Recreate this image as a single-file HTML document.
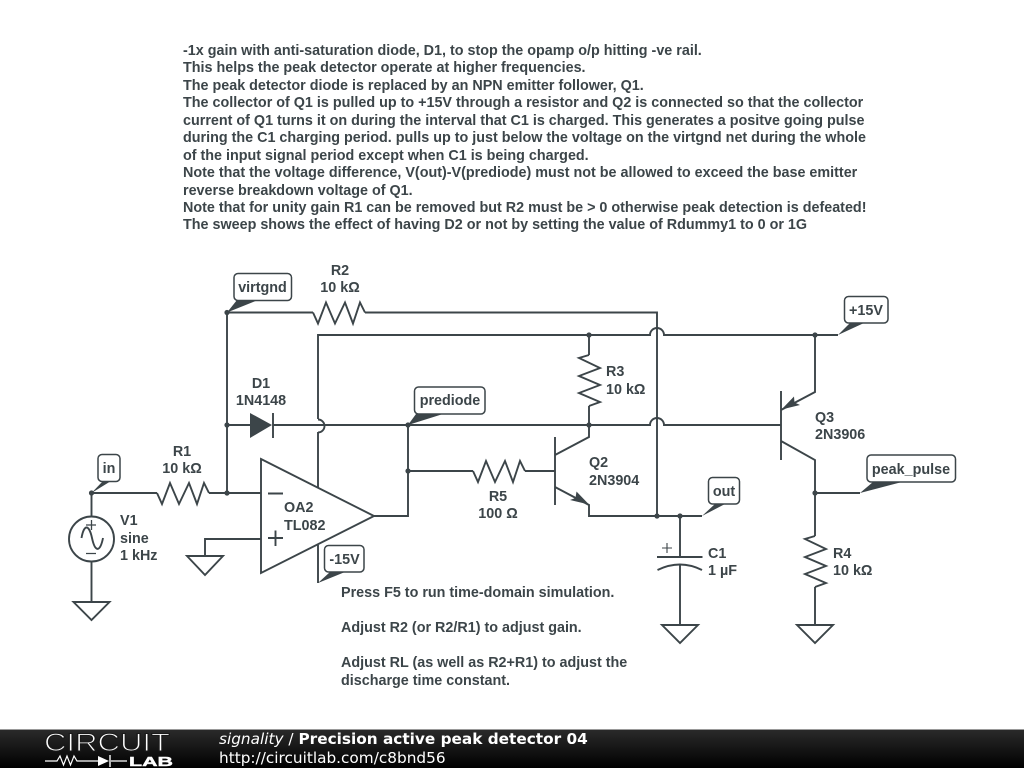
<!DOCTYPE html>
<html><head><meta charset="utf-8"><style>
html,body{margin:0;padding:0;background:#fff;width:1024px;height:768px;overflow:hidden}
svg{display:block}
text{font-family:"Liberation Sans",sans-serif;font-weight:bold;font-size:14.35px;fill:#3c4549}
.w{fill:none;stroke:#3c4549;stroke-width:1.9;stroke-linejoin:miter}
.b{fill:#fff;stroke:#3c4549;stroke-width:1.5}
.p{fill:#3c4549;stroke:none}
.c{text-anchor:middle}
.f{font-family:"DejaVu Sans",sans-serif;font-size:15.3px;fill:#fff}
</style></head><body>
<svg width="1024" height="768" viewBox="0 0 1024 768" xmlns="http://www.w3.org/2000/svg">
<defs><linearGradient id="g" x1="0" y1="0" x2="0" y2="1"><stop offset="0" stop-color="#2b2b2b"/><stop offset="1" stop-color="#000"/></linearGradient></defs>
<rect width="1024" height="768" fill="#fff"/>

<g>
<text x="183" y="55">-1x gain with anti-saturation diode, D1, to stop the opamp o/p hitting -ve rail.</text>
<text x="183" y="72">This helps the peak detector operate at higher frequencies.</text>
<text x="183" y="90">The peak detector diode is replaced by an NPN emitter follower, Q1.</text>
<text x="183" y="107">The collector of Q1 is pulled up to +15V through a resistor and Q2 is connected so that the collector</text>
<text x="183" y="125">current of Q1 turns it on during the interval that C1 is charged. This generates a positve going pulse</text>
<text x="183" y="142">during the C1 charging period. pulls up to just below the voltage on the virtgnd net during the whole</text>
<text x="183" y="160">of the input signal period except when C1 is being charged.</text>
<text x="183" y="177">Note that the voltage difference, V(out)-V(prediode) must not be allowed to exceed the base emitter</text>
<text x="183" y="195">reverse breakdown voltage of Q1.</text>
<text x="183" y="212">Note that for unity gain R1 can be removed but R2 must be &gt; 0 otherwise peak detection is defeated!</text>
<text x="183" y="229">The sweep shows the effect of having D2 or not by setting the value of Rdummy1 to 0 or 1G</text>
</g>

<!-- wires -->
<g class="w">
<path d="M227 312.5H313M365 312.5H657V516"/>
<path d="M227 312.5V493"/>
<path d="M318 419V335H650A7 7 0 0 1 664 335H838"/>
<path d="M318 432V488"/>
<path d="M318 419.500A6.500 6.500 0 0 1 318 432.500"/>
<path d="M227 425H250M273 425H650A7 7 0 0 1 664 425H781"/>
<path d="M91.5 493H157M209 493H261"/>
<path d="M91.5 493V517M91.5 561V602"/>
<path d="M261 539H205V556"/>
<path d="M318 545V583"/>
<path d="M374 516H408V425"/>
<path d="M408 471H473M525 471H555"/>
<path d="M589 335V355M589 406V437L555 455"/>
<path d="M555 487L589 505V516H702"/>
<path d="M680 516V557M680 565V625"/>
<path d="M815 335V392L781 410"/>
<path d="M781 441L815 460V536M815 587V625"/>
<path d="M815 493H860"/>
<!-- resistors -->
<path d="M157 493l5 11 8-21 9 21 10-21 8 21 7-21 5 10"/>
<path d="M313 312.5l5 11 8-21 9 21 10-21 8 21 7-21 5 10"/>
<path d="M473 471l5 11 8-21 9 21 10-21 8 21 7-21 5 10"/>
<path d="M589 355l-10 3 21 10-21 8 21 9-21 8 21 9-11 4"/>
<path d="M815 536l-10 3 21 10-21 8 21 9-21 8 21 9-11 4"/>
<!-- transistor bars -->
<path d="M555 437V505"/>
<path d="M781 391V460"/>
<!-- diode bar -->
<path d="M273 413V438"/>
<!-- cap -->
<path d="M657 557H702.500"/>
<path d="M657.500 570Q680 559 702 570"/>
<path d="M662 548H672M667 543V553" style="stroke-width:1.1"/>
<!-- grounds -->
<path d="M187 556H223L205 575Z"/>
<path d="M73.500 602H109.500L91.500 620Z"/>
<path d="M662 625H698L680 643Z"/>
<path d="M797 625H833L815 643Z"/>
<!-- opamp -->
<path d="M261 459L374 516L261 573Z" fill="#fff"/>
<path d="M268 493.500H283M268 538H283M275.500 530.500V546"/>
<!-- source -->
<circle cx="91.500" cy="539" r="22.500"/>
<path d="M81.500 538C84 524 89 524 92 538S100 553 103 538"/>
<path d="M86 525H96M91.500 520V530M86 553.500H96" style="stroke-width:1.3"/>
</g>

<!-- diode & arrows -->
<polygon class="p" points="250,413 250,438 272,425"/>
<polygon class="p" points="589,504.500 570,500 575.500,498 576.500,491.500"/>
<polygon class="p" points="781.500,409.500 800,405 794.500,402.500 794,396.500"/>

<!-- junctions -->
<g class="p">
<circle cx="227" cy="312.500" r="2.600"/><circle cx="227" cy="425" r="2.600"/><circle cx="227" cy="493" r="2.600"/>
<circle cx="91.500" cy="493" r="2.600"/><circle cx="408" cy="425" r="2.600"/><circle cx="408" cy="471" r="2.600"/>
<circle cx="589" cy="335" r="2.600"/><circle cx="589" cy="425" r="2.600"/><circle cx="657" cy="516" r="2.600"/>
<circle cx="680" cy="516" r="2.600"/><circle cx="815" cy="335" r="2.600"/><circle cx="815" cy="493" r="2.600"/>
</g>

<!-- net labels -->
<polygon class="p" points="227,312.500 237,300 258,300"/>
<rect class="b" x="234" y="273.500" width="57.500" height="27" rx="4"/>
<text class="c" x="262.500" y="292">virtgnd</text>
<polygon class="p" points="91.500,493 103,481 111,481"/>
<rect class="b" x="98" y="454.500" width="22" height="27" rx="4"/>
<text class="c" x="109" y="473">in</text>
<polygon class="p" points="318,583 330,572 345,572"/>
<rect class="b" x="324.500" y="545.500" width="39.500" height="26.500" rx="4"/>
<text class="c" x="344.500" y="564">-15V</text>
<polygon class="p" points="408,425 416,414 443,414"/>
<rect class="b" x="414.500" y="387" width="70.500" height="27" rx="4"/>
<text class="c" x="450" y="405">prediode</text>
<polygon class="p" points="702,516 715,504 725,504"/>
<rect class="b" x="708.500" y="477.500" width="31" height="26.500" rx="4"/>
<text class="c" x="724" y="496">out</text>
<polygon class="p" points="838,335 850,323 864,323"/>
<rect class="b" x="844.500" y="296.500" width="43.500" height="26.500" rx="4"/>
<text class="c" x="866" y="315">+15V</text>
<polygon class="p" points="860,493 873,482 902,482"/>
<rect class="b" x="867" y="455" width="88.500" height="27" rx="4"/>
<text class="c" x="911" y="474">peak_pulse</text>

<!-- component labels -->
<text class="c" x="340" y="275">R2</text><text class="c" x="340" y="292">10 kΩ</text>
<text class="c" x="182" y="456">R1</text><text class="c" x="182" y="473">10 kΩ</text>
<text class="c" x="261" y="388">D1</text><text class="c" x="261" y="405">1N4148</text>
<text x="120" y="525">V1</text><text x="120" y="543">sine</text><text x="120" y="560">1 kHz</text>
<text x="284" y="512">OA2</text><text x="284" y="530">TL082</text>
<text class="c" x="498" y="501">R5</text><text class="c" x="498" y="518">100 Ω</text>
<text x="606" y="376">R3</text><text x="606" y="394">10 kΩ</text>
<text x="589" y="467">Q2</text><text x="589" y="485">2N3904</text>
<text x="708" y="558">C1</text><text x="708" y="575">1 µF</text>
<text x="815" y="422">Q3</text><text x="815" y="439">2N3906</text>
<text x="833" y="558">R4</text><text x="833" y="575">10 kΩ</text>

<text x="341" y="597">Press F5 to run time-domain simulation.</text>
<text x="341" y="632">Adjust R2 (or R2/R1) to adjust gain.</text>
<text x="341" y="667">Adjust RL (as well as R2+R1) to adjust the</text>
<text x="341" y="685">discharge time constant.</text>

<!-- footer -->
<rect x="0" y="729" width="1024" height="39" fill="url(#g)"/>
<rect x="0" y="729" width="1024" height="1" fill="#999"/>
<text x="44" y="751" textLength="126" lengthAdjust="spacingAndGlyphs" style="font-weight:normal;font-size:25px;fill:#fff;stroke:#1a1a1a;stroke-width:1.100;paint-order:normal">CIRCUIT</text>
<path d="M45 761H57l3-5 3.500 9 3.500-9 3.500 9 3.500-9 3 5H98M111 761H127" fill="none" stroke="#fff" stroke-width="1.200"/>
<polygon points="98,756 98,766 109,761" fill="#fff"/>
<path d="M110 755V767" stroke="#fff" stroke-width="1.400"/>
<text x="129" y="766" textLength="44" lengthAdjust="spacingAndGlyphs" style="font-size:13px;fill:#fff;stroke:#fff;stroke-width:.4">LAB</text>
<text class="f" x="219" y="744" style="font-weight:normal"><tspan font-style="italic">signality</tspan> / <tspan font-weight="bold">Precision active peak detector 04</tspan></text>
<text class="f" x="219" y="763" style="font-weight:normal">http://circuitlab.com/c8bnd56</text>
</svg>
</body></html>
